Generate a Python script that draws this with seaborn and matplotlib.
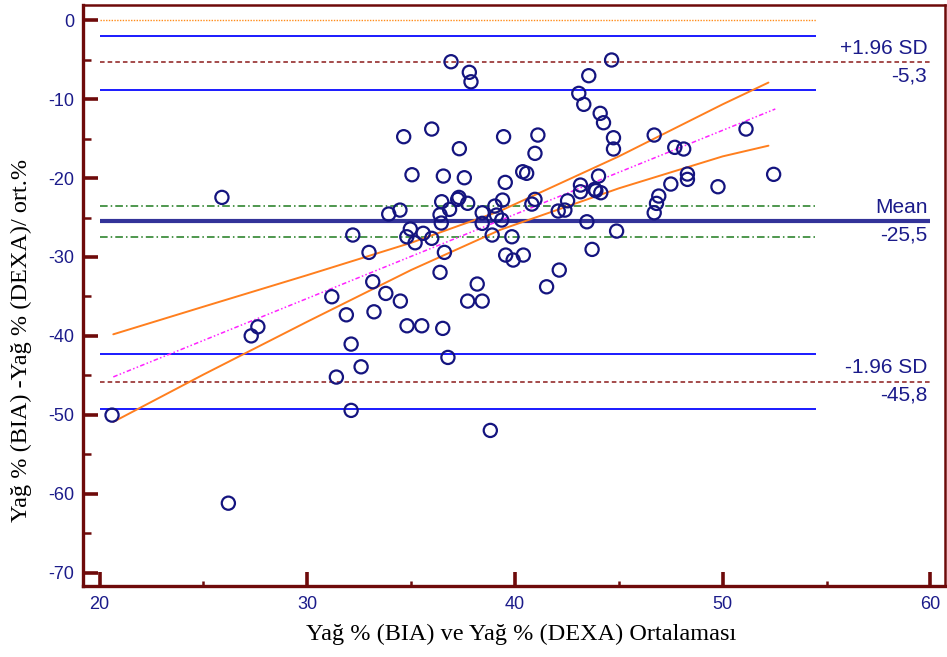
import numpy as np
import pandas as pd
import matplotlib
matplotlib.use("Agg")
import matplotlib.pyplot as plt
import seaborn as sns
from matplotlib.ticker import MultipleLocator

# ---------------- data ----------------
mean_x = [25.89, 27.62, 27.30, 20.60, 26.20,
          36.92, 37.80, 37.88, 34.64, 35.99, 37.32, 39.45, 41.10, 40.96,
          35.04, 36.55, 37.56, 40.37, 40.56, 39.53, 36.47, 37.30, 37.24,
          37.72, 36.85, 36.39, 36.45, 34.46, 33.92, 39.40, 39.03, 38.42,
          39.11, 39.36, 38.42, 40.81, 40.96, 32.19, 34.96, 34.79, 35.58,
          35.19, 35.99, 38.90, 39.85,
          32.97, 36.60, 39.55, 39.91, 40.40, 41.52, 33.15, 33.78, 34.48,
          31.18, 36.39, 38.18, 37.72, 38.42, 31.88, 33.21, 34.80, 35.51,
          36.52, 32.11, 36.77, 32.59, 31.40, 32.11, 38.81,
          44.65, 43.55, 43.07, 43.31, 44.10, 44.26, 44.74, 44.74, 46.70,
          47.69, 48.12, 51.12, 52.45, 49.77, 48.30, 48.30, 47.50, 44.02,
          43.15, 43.15, 43.84, 44.13, 43.89, 42.53, 42.08, 42.40, 43.46,
          44.89, 46.92, 46.81, 46.70, 43.71, 42.13]
diff_y = [-22.45, -38.85, -40.00, -50.04, -61.20,
          -5.26, -6.60, -7.80, -14.76, -13.79, -16.28, -14.76, -14.55, -16.87,
          -19.58, -19.75, -19.96, -19.20, -19.40, -20.55, -23.00, -22.45, -22.70,
          -23.20, -23.97, -24.65, -25.70, -24.06, -24.56, -22.79, -23.55, -24.40,
          -24.69, -25.32, -25.74, -23.30, -22.70, -27.22, -26.46, -27.44, -27.00,
          -28.20, -27.64, -27.22, -27.44,
          -29.42, -29.42, -29.76, -30.39, -29.76, -33.78, -33.14, -34.62, -35.59,
          -35.04, -31.95, -33.43, -35.59, -35.59, -37.33, -36.95, -38.72, -38.72,
          -39.05, -41.04, -42.73, -43.92, -45.22, -49.44, -51.98,
          -5.04, -7.03, -9.27, -10.66, -11.80, -12.99, -14.89, -16.32, -14.55,
          -16.11, -16.32, -13.79, -19.53, -21.10, -19.49, -20.17, -20.76, -19.75,
          -20.89, -21.74, -21.43, -21.86, -21.60, -22.88, -24.18, -24.06, -25.54,
          -26.72, -22.28, -23.21, -24.40, -29.04, -31.66]

zero_level = 0.0
upper_ci = [-2.0, -8.8]
upper_loa = -5.3
mean_diff = -25.5
mean_ci = [-23.5, -27.5]
lower_ci = [-42.3, -49.3]
lower_loa = -45.8

reg_x = [20.66, 52.53]
reg_y = [-45.2, -11.25]

band_x = [20.66, 25.0, 30.0, 35.0, 39.3, 45.0, 50.0, 52.2]
band_hi = [-39.8, -36.3, -32.3, -28.2, -24.15, -17.25, -10.65, -7.9]
band_lo = [-50.9, -44.9, -38.2, -31.65, -26.55, -21.3, -17.25, -15.9]

loa_labels = ["+1.96 SD", "-5,3", "Mean", "-25,5", "-1.96 SD", "-45,8"]

x_label = "Yağ % (BIA) ve Yağ % (DEXA) Ortalaması"
y_label = "Yağ % (BIA) -Yağ % (DEXA)/ ort.%"

# ---------------- styling ----------------
sns.set_theme(style="white")
plt.rcParams['font.family'] = ['Liberation Sans', 'DejaVu Sans']
plt.rcParams['axes.unicode_minus'] = False

spine_col = "#6e0a0a"
navy = "#1b1b8a"

fig = plt.figure(figsize=(9.47, 6.57), dpi=100)
ax = fig.add_axes([0.0876, 0.108, 0.9103, 0.8844])

x_start, x_short, x_long = 20.0, 54.5, 60.0

# horizontal reference lines
ax.hlines(zero_level, x_start, x_short, colors="#ff8c1a", linestyles=(0, (1, 1)), lw=1.0)
ax.hlines(upper_ci, x_start, x_short, colors="#1a1aff", lw=1.4)
ax.hlines(lower_ci, x_start, x_short, colors="#1a1aff", lw=1.4)
ax.hlines([upper_loa, lower_loa], x_start, x_long, colors="#8b1a1a", linestyles=(0, (3, 2)), lw=1.1)
ax.hlines(mean_ci, x_start, x_short, colors="#1e7a1e", linestyles=(0, (5, 2, 1, 2)), lw=1.1)
ax.hlines(mean_diff, x_start, x_long, colors="#333399", lw=3.0)

# regression line and its confidence curves
sns.lineplot(x=reg_x, y=reg_y, ax=ax, color="#ff22ff", lw=1.1,
             linestyle=(0, (3, 1.5, 1, 1.5, 1, 1.5)), sort=False)
sns.lineplot(x=band_x, y=band_hi, ax=ax, color="#ff7f1e", lw=1.4, sort=False)
sns.lineplot(x=band_x, y=band_lo, ax=ax, color="#ff7f1e", lw=1.4, sort=False)

# scatter
df = pd.DataFrame({"x": mean_x, "y": diff_y})
sns.scatterplot(data=df, x="x", y="y", ax=ax, s=90, marker="o",
                facecolors="none", edgecolor="#14147f", linewidth=1.6, zorder=5)

# right-hand labels
lab_x = 59.85
lab_y = [upper_loa, upper_loa, mean_diff, mean_diff, lower_loa, lower_loa]
for i, (t, yv) in enumerate(zip(loa_labels, lab_y)):
    above = (i % 2 == 0)
    ax.annotate(t, (lab_x, yv), xytext=(0, 3 if above else -3), textcoords="offset points",
                ha="right", va="bottom" if above else "top", color=navy, fontsize=15)

ax.set_xlim(19.2, 60.7)
ax.set_ylim(-71.7, 1.93)
ax.xaxis.set_major_locator(MultipleLocator(10))
ax.xaxis.set_minor_locator(MultipleLocator(5))
ax.yaxis.set_major_locator(MultipleLocator(10))
ax.yaxis.set_minor_locator(MultipleLocator(5))
ax.tick_params(axis="both", which="major", direction="in", colors=spine_col,
               labelcolor=navy, labelsize=13, width=2.6)
ax.tick_params(axis="y", which="major", length=11, pad=6)
ax.tick_params(axis="x", which="major", length=10, pad=7)
ax.tick_params(axis="y", which="minor", direction="in", length=6, width=1.8, colors=spine_col)
ax.tick_params(axis="x", which="minor", direction="in", length=3.5, width=1.8, colors=spine_col)
ax.tick_params(left=True, bottom=True, which="both")

for side, sp in ax.spines.items():
    sp.set_visible(True)
    sp.set_color(spine_col)
    sp.set_linewidth(2.4 if side in ("left", "bottom") else 1.8)

ax.set_xlabel(x_label, family=["Liberation Serif"], fontsize=17.5, color="black")
ax.set_ylabel(y_label, family=["Liberation Serif"], fontsize=17.5, color="black")
ax.xaxis.set_label_coords(0.508, -0.065)
ax.yaxis.set_label_coords(-0.059, 0.423)
ax.grid(False)

fig.savefig("out.png", dpi=100)
